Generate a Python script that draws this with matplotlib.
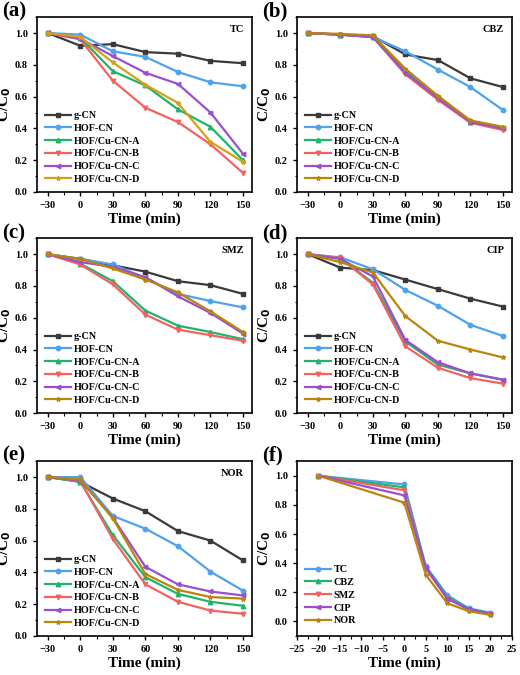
import matplotlib
matplotlib.use('Agg')
import matplotlib.pyplot as plt
from matplotlib.ticker import MultipleLocator

plt.rcParams['font.family'] = ['Liberation Serif', 'DejaVu Serif']
plt.rcParams['font.weight'] = 'bold'
plt.rcParams['axes.labelweight'] = 'bold'

# time axes
t = [-30, 0, 30, 60, 90, 120, 150]
t_f = [-20, 0, 5, 10, 15, 20]

samples = ['g-CN', 'HOF-CN', 'HOF/Cu-CN-A', 'HOF/Cu-CN-B', 'HOF/Cu-CN-C', 'HOF/Cu-CN-D']
pollutants = ['TC', 'CBZ', 'SMZ', 'CIP', 'NOR']

# C/C0 per pollutant, one row per sample (same order as samples)
tc = [[1.0, 0.92, 0.93, 0.88, 0.87, 0.825, 0.81],
      [1.0, 0.99, 0.885, 0.85, 0.755, 0.69, 0.665],
      [1.0, 0.97, 0.76, 0.67, 0.52, 0.41, 0.20],
      [1.0, 0.96, 0.70, 0.53, 0.44, 0.30, 0.12],
      [1.0, 0.965, 0.855, 0.75, 0.68, 0.50, 0.24],
      [1.0, 0.975, 0.815, 0.675, 0.56, 0.315, 0.19]]
cbz = [[1.0, 0.99, 0.98, 0.865, 0.83, 0.715, 0.66],
       [1.0, 0.99, 0.975, 0.885, 0.77, 0.66, 0.515],
       [1.0, 0.99, 0.975, 0.76, 0.59, 0.44, 0.40],
       [1.0, 0.99, 0.975, 0.74, 0.58, 0.435, 0.39],
       [1.0, 0.99, 0.975, 0.75, 0.59, 0.44, 0.40],
       [1.0, 0.995, 0.985, 0.775, 0.605, 0.45, 0.41]]
smz = [[1.0, 0.97, 0.93, 0.89, 0.83, 0.805, 0.75],
       [1.0, 0.97, 0.935, 0.85, 0.75, 0.705, 0.665],
       [1.0, 0.94, 0.83, 0.645, 0.55, 0.51, 0.465],
       [1.0, 0.935, 0.81, 0.62, 0.525, 0.49, 0.455],
       [1.0, 0.95, 0.92, 0.855, 0.735, 0.63, 0.50],
       [1.0, 0.97, 0.91, 0.84, 0.76, 0.64, 0.51]]
cip = [[1.0, 0.915, 0.90, 0.84, 0.78, 0.72, 0.67],
       [1.0, 0.98, 0.905, 0.775, 0.675, 0.555, 0.485],
       [1.0, 0.975, 0.82, 0.45, 0.305, 0.25, 0.21],
       [1.0, 0.975, 0.81, 0.42, 0.285, 0.22, 0.185],
       [1.0, 0.97, 0.86, 0.46, 0.32, 0.25, 0.21],
       [1.0, 0.95, 0.885, 0.61, 0.455, 0.40, 0.35]]
nor = [[1.0, 0.97, 0.865, 0.785, 0.66, 0.60, 0.475],
       [1.0, 1.0, 0.755, 0.675, 0.565, 0.405, 0.285],
       [1.0, 0.97, 0.635, 0.37, 0.265, 0.215, 0.19],
       [1.0, 0.975, 0.61, 0.325, 0.215, 0.16, 0.14],
       [1.0, 0.98, 0.745, 0.435, 0.325, 0.28, 0.255],
       [1.0, 0.985, 0.74, 0.39, 0.29, 0.245, 0.235]]
# panel (f): one curve per pollutant
f_vals = [[1.0, 0.94, 0.38, 0.18, 0.09, 0.06],
          [1.0, 0.92, 0.37, 0.17, 0.085, 0.055],
          [1.0, 0.90, 0.36, 0.16, 0.08, 0.05],
          [1.0, 0.865, 0.37, 0.155, 0.085, 0.05],
          [1.0, 0.815, 0.32, 0.125, 0.07, 0.045]]

cols = ['#3a3a3a', '#4ea2ee', '#1fb46a', '#f26262', '#9a4fcf', '#b8860b']
mks = ['s', 'o', '^', 'v', '<', '*']
f_cols = ['#4ea2ee', '#1fb46a', '#f26262', '#9a4fcf', '#b8860b']
f_mks = ['o', '^', 'v', '<', '*']

fig = plt.figure(figsize=(5.2, 6.75), dpi=100)
lefts = [0.071, 0.571]
bottoms = [0.7156, 0.388, 0.0578]
W, H = 0.413, 0.259
axes = [fig.add_axes([lefts[i % 2], bottoms[i // 2], W, H]) for i in range(6)]

def style(ax, lab):
    for s in ax.spines.values():
        s.set_linewidth(1.2)
    ax.tick_params(which='major', direction='out', length=3, width=1.0, labelsize=7.5)
    ax.tick_params(which='minor', direction='out', length=1.8, width=0.8)
    ax.yaxis.set_minor_locator(MultipleLocator(0.1))
    for l in ax.get_xticklabels() + ax.get_yticklabels():
        l.set_fontweight('bold')
    ax.set_xlabel('Time (min)', fontsize=11, labelpad=2)
    ax.set_ylabel('C/C$_\\mathbf{0}$', fontsize=11)
    ax.yaxis.set_label_coords(-0.11, 0.5)
    ax.text(-0.16, 1.03, lab, transform=ax.transAxes, fontsize=15,
            fontweight='bold', va='center', ha='left')

leg_kw = dict(loc='lower left', frameon=False, fontsize=7.3, handlelength=2.6,
              labelspacing=0.36, handletextpad=0.2, borderaxespad=0.4)

data = [tc, cbz, smz, cip, nor]
for k, (ax, ys, name) in enumerate(zip(axes[:5], data, pollutants)):
    cc = cols[:]
    if k == 0:
        cc[5] = '#d4a017'
    for y, c, m, lab in zip(ys, cc, mks, samples):
        ax.plot(t, y, color=c, marker=m, ms=3.2, lw=1.6, label=lab)
    ax.set_xlim(-40, 158)
    ax.set_ylim(0, 1.1)
    ax.set_xticks(t)
    ax.xaxis.set_minor_locator(MultipleLocator(15))
    ax.set_yticks([0, 0.2, 0.4, 0.6, 0.8, 1.0])
    ax.set_yticklabels(['0.0', '0.2', '0.4', '0.6', '0.8', '1.0'])
    ax.text(0.965, 0.93, name, transform=ax.transAxes, fontsize=7.5,
            fontweight='bold', ha='right', va='center')
    ax.legend(bbox_to_anchor=(0.0, 0.0), **leg_kw)
    style(ax, '(' + 'abcde'[k] + ')')

ax = axes[5]
for y, c, m, lab in zip(f_vals, f_cols, f_mks, pollutants):
    ax.plot(t_f, y, color=c, marker=m, ms=3.2, lw=1.6, label=lab)
ax.set_xlim(-25, 25)
ax.set_ylim(-0.1, 1.1)
ax.set_xticks(range(-25, 26, 5))
ax.xaxis.set_minor_locator(MultipleLocator(2.5))
ax.set_yticks([0, 0.2, 0.4, 0.6, 0.8, 1.0])
ax.set_yticklabels(['0.0', '0.2', '0.4', '0.6', '0.8', '1.0'])
ax.legend(bbox_to_anchor=(0.0, 0.015), **leg_kw)
style(ax, '(f)')

fig.savefig('out.png', dpi=100)
